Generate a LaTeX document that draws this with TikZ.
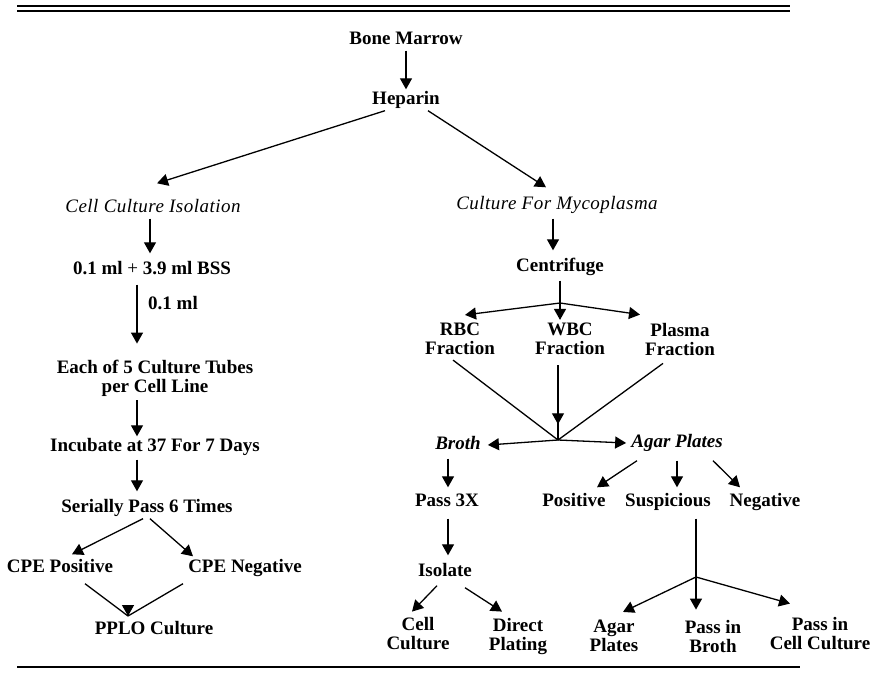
\documentclass[tikz,border=0pt]{standalone}
\usepackage{fontspec}
\setmainfont{Liberation Serif}
\usetikzlibrary{arrows.meta,decorations.markings}

\begin{document}
\begin{tikzpicture}[x=1pt, y=-1pt,
    every node/.style={font=\fontsize{19}{19}\selectfont\bfseries, inner sep=2pt, align=center},
    one/.style={text height=13pt, text depth=4pt},
    it/.style={one, font=\fontsize{19}{19}\selectfont\itshape\addfontfeature{LetterSpace=2.5}},
    itb/.style={one, font=\fontsize{19}{19}\selectfont\bfseries\itshape},
    arr/.style={line width=1.3pt, -{Triangle[length=11pt,width=12pt]}},
    ln/.style={line width=1.3pt},
    midarr/.style={line width=1.3pt, postaction={decorate}, decoration={markings,
        mark=at position #1 with {\arrow{Triangle[length=11pt,width=12pt]}}}}]
    \useasboundingbox (0,0) rectangle (880,679);
    \draw[line width=2.2pt] (17,6) -- (790,6);
    \draw[line width=1.6pt] (17,11) -- (790,11);
    \draw[line width=2.5pt] (17,667) -- (800,667);

    \node[one] (bm) at (406,40) {Bone Marrow};
    \node[one] (hep) at (406,100) {Heparin};
    \node[it] (cci) at (153,208) {Cell Culture Isolation};
    \node[it] (cfm) at (557,205) {Culture For Mycoplasma};
    \node[one] (bss) at (152,270) {0.1 ml \textmd{+} 3.9 ml BSS};
    \node[one] (cen) at (560,267) {Centrifuge};
    \node[one] (dil) at (173,305) {0.1 ml};
    \node (each) at (155,378) {Each of 5 Culture Tubes\\per Cell Line};
    \node (rbc) at (460,339) {RBC\\Fraction};
    \node (wbc) at (570,339) {WBC\\Fraction};
    \node (pla) at (680,339) {Plasma\\Fraction};
    \node[one] (inc) at (155,447) {Incubate at 37 For 7 Days};
    \node[itb] (bro) at (458,445) {Broth};
    \node[itb] (agar) at (677,443) {Agar Plates};
    \node[one] (ser) at (147,508) {Serially Pass 6 Times};
    \node[one] (p3x) at (447,502) {Pass 3X};
    \node[one] (pos) at (574,502) {Positive};
    \node[one] (sus) at (668,502) {Suspicious};
    \node[one] (neg) at (765,502) {Negative};
    \node[one] (cpep) at (60,568) {CPE Positive};
    \node[one] (cpen) at (245,568) {CPE Negative};
    \node[one] (iso) at (445,572) {Isolate};
    \node[one] (pplo) at (154,630) {PPLO Culture};
    \node (cc) at (418,634) {Cell\\Culture};
    \node (dp) at (518,636) {Direct\\Plating};
    \node (ap) at (614,636) {Agar\\Plates};
    \node (pib) at (713,636) {Pass in\\Broth};
    \node (picc) at (820,634) {Pass in\\Cell Culture};

    \coordinate (cj) at (560,303);
    \coordinate (fj) at (558,440);
    \coordinate (sj) at (696,577);
    \coordinate (pj) at (128,616);

    \draw[arr] (bm.south) -- (hep.north);
    \draw[arr] ([xshift=-21pt]hep.south) -- ([shift={(4pt,14pt)}]cci.north);
    \draw[arr] ([xshift=22pt]hep.south) -- ([shift={(-11pt,7pt)}]cfm.north);

    \draw[arr] ([xshift=-3pt]cci.south) -- ([xshift=-2pt,yshift=6pt]bss.north);
    \draw[arr] ([xshift=-15pt,yshift=-4pt]bss.south) -- ([xshift=-18pt,yshift=14pt]each.north);
    \draw[arr] ([xshift=-18pt,yshift=-2pt]each.south) -- ([xshift=-18pt]inc.north);
    \draw[arr] ([xshift=-18pt,yshift=-2pt]inc.south) -- ([xshift=-10pt,yshift=6pt]ser.north);
    \draw[arr] ([xshift=-4pt]ser.south) -- ([xshift=12pt,yshift=3pt]cpep.north);
    \draw[arr] ([xshift=3pt]ser.south) -- ([xshift=-52pt,yshift=1pt]cpen.north);
    \draw[ln] ([xshift=25pt,yshift=-5pt]cpep.south) -- (pj);
    \draw[ln] ([xshift=-62pt,yshift=-5pt]cpen.south) -- (pj);
    \draw[arr] ([yshift=1pt]pj) -- (pj);

    \draw[arr] ([xshift=-4pt,yshift=-3pt]cfm.south) -- ([xshift=-7pt,yshift=6pt]cen.north);
    \draw[ln] ([yshift=-3pt]cen.south) -- (cj);
    \draw[arr] (cj) -- ([shift={(5pt,6pt)}]rbc.north);
    \draw[arr] (cj) -- ([shift={(-10pt,1pt)}]wbc.north);
    \draw[arr] (cj) -- ([shift={(-40pt,6pt)}]pla.north);
    \draw[ln] ([xshift=-7pt,yshift=-3pt]rbc.south) -- (fj);
    \draw[ln] ([xshift=-17pt,yshift=-6pt]pla.south) -- (fj);
    \draw[midarr=0.79] ([xshift=-12pt,yshift=-8pt]wbc.south) -- (fj);
    \draw[arr] (fj) -- ([xshift=5pt]bro.east);
    \draw[arr] (fj) -- ([xshift=-3pt]agar.west);

    \draw[arr] ([xshift=-10pt,yshift=-3pt]bro.south) -- ([xshift=1pt,yshift=4pt]p3x.north);
    \draw[arr] ([xshift=1pt,yshift=-6pt]p3x.south) -- ([xshift=3pt,yshift=6pt]iso.north);
    \draw[arr] ([xshift=-8pt,yshift=-3pt]iso.south) -- ([xshift=-6pt,yshift=4pt]cc.north);
    \draw[arr] ([xshift=20pt,yshift=-5pt]iso.south) -- ([xshift=-16pt,yshift=4pt]dp.north);

    \draw[arr] ([xshift=-40pt,yshift=-7pt]agar.south) -- ([xshift=23pt,yshift=4pt]pos.north);
    \draw[arr] ([yshift=-7pt]agar.south) -- ([xshift=9pt,yshift=4pt]sus.north);
    \draw[arr] ([xshift=36pt,yshift=-7pt]agar.south) -- ([xshift=-25pt,yshift=4pt]neg.north);
    \draw[ln] ([xshift=28pt,yshift=-6pt]sus.south) -- (sj);
    \draw[arr] (sj) -- ([shift={(9pt,6pt)}]ap.north);
    \draw[arr] (sj) -- ([shift={(-17pt,8pt)}]pib.north);
    \draw[arr] (sj) -- ([shift={(-30pt,12pt)}]picc.north);
\end{tikzpicture}
\end{document}
